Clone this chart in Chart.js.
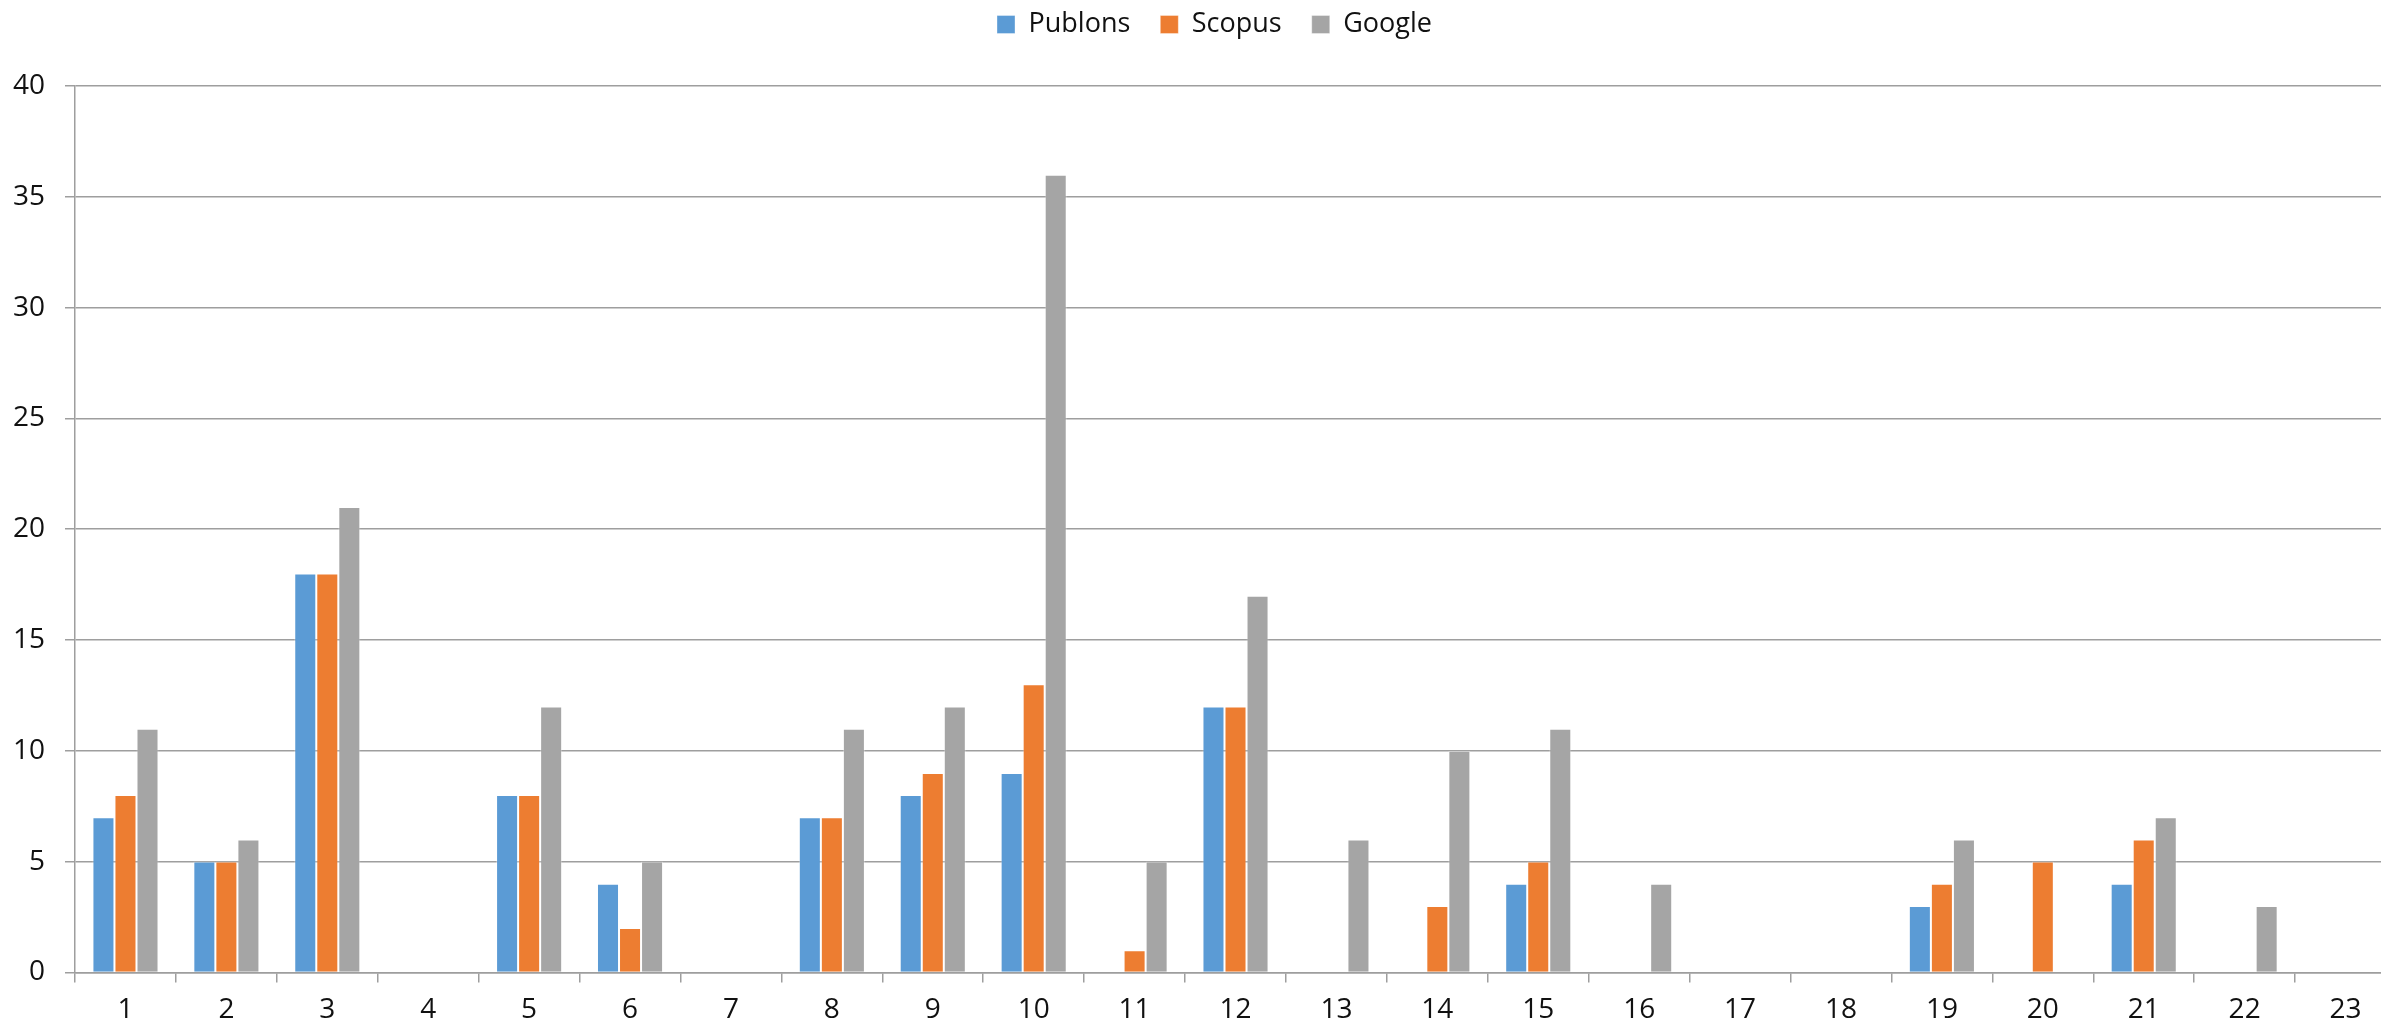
<!DOCTYPE html>
<html>
<head>
<meta charset="utf-8">
<script src="https://cdn.jsdelivr.net/npm/chart.js@4.4.1/dist/chart.umd.min.js"></script>
<style>
    html, body { margin: 0; padding: 0; background: #fff; overflow: hidden; }
    #wrap { position: relative; width: 2400px; height: 1038px; }
</style>
</head>
<body>
<div id="wrap"><canvas id="chart"></canvas></div>
<script>
const labels = ['1','2','3','4','5','6','7','8','9','10','11','12','13','14','15','16','17','18','19','20','21','22','23'];
const publons = [7, 5, 18, 0, 8, 4, 0, 7, 8, 9, 0, 12, 0, 0, 4, 0, 0, 0, 3, 0, 4, 0, 0];
const scopus  = [8, 5, 18, 0, 8, 2, 0, 7, 9, 13, 1, 12, 0, 3, 5, 0, 0, 0, 4, 5, 6, 0, 0];
const google  = [11, 6, 21, 0, 12, 5, 0, 11, 12, 36, 5, 17, 6, 10, 11, 4, 0, 0, 6, 0, 7, 3, 0];
const yTicks  = [0, 5, 10, 15, 20, 25, 30, 35, 40];

const palette = ['#5B9BD5', '#ED7D31', '#A5A5A5'];
const gridColor = '#9E9E9E';
const textColor = '#111';
const fontFamily = '"Open Sans", "Liberation Sans", sans-serif';

// legend sits higher and a bit right of the plot centre, with a gap below it
const legendTweak = {
    id: 'legendTweak',
    beforeInit(chart) {
        const lg = chart.legend;
        if (!lg) return;
        const fit = lg.fit;
        lg.fit = function () {
            fit.call(this);
            this.height += 19;
        };
    },
    afterLayout(chart) {
        const lg = chart.legend;
        if (!lg) return;
        lg.left += 20;
        lg.right += 20;
        lg.top -= 19;
        lg.bottom -= 19;
    }
};

const mk = (label, data, color) => ({
    label,
    data,
    backgroundColor: color,
    borderColor: 'rgba(255,255,255,0.35)',
    borderWidth: 1,
    categoryPercentage: 0.655,
    barPercentage: 1.0
});

new Chart(document.getElementById('chart').getContext('2d'), {
    type: 'bar',
    data: {
        labels,
        datasets: [
            mk('Publons', publons, palette[0]),
            mk('Scopus', scopus, palette[1]),
            mk('Google', google, palette[2])
        ]
    },
    options: {
        responsive: true,
        maintainAspectRatio: false,
        animation: false,
        layout: { padding: { left: -7, right: 4, top: 0, bottom: 0 } },
        plugins: {
            legend: {
                position: 'top',
                labels: {
                    color: textColor,
                    font: { family: fontFamily, size: 27 },
                    boxWidth: 18,
                    boxHeight: 18,
                    padding: 30
                }
            },
            tooltip: { enabled: false }
        },
        scales: {
            y: {
                min: 0,
                max: 40,
                afterBuildTicks(axis) { axis.ticks = yTicks.map(v => ({ value: v })); },
                ticks: { color: textColor, font: { family: fontFamily, size: 28 }, padding: 20 },
                grid: { color: gridColor, lineWidth: 1.5, tickLength: 10 },
                border: { color: gridColor, width: 1.5 }
            },
            x: {
                ticks: { color: textColor, font: { family: fontFamily, size: 28 }, padding: 11, maxRotation: 0 },
                grid: { color: gridColor, lineWidth: 1.5, drawOnChartArea: false, tickLength: 10, offset: true },
                border: { color: gridColor, width: 1.5 }
            }
        }
    },
    plugins: [legendTweak]
});
</script>
</body>
</html>
